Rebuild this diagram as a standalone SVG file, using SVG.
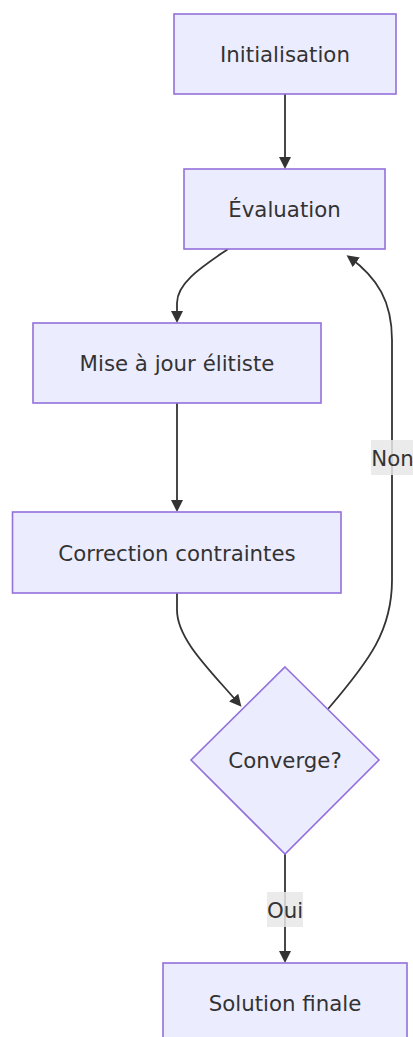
<svg xmlns="http://www.w3.org/2000/svg" width="413" height="1037" viewBox="0 0 413 1037">
  <style>
    .node rect, .node polygon { fill: #ECECFF; stroke: #9370DB; stroke-width: 1.6; }
    .node text, .label text { font-family: "DejaVu Sans", "Liberation Sans", sans-serif; font-size: 21.3px; fill: #333333; text-anchor: middle; }
    .edge { fill: none; stroke: #333333; stroke-width: 1.8; marker-end: url(#arrow); }
    .label rect { fill: #e8e8e8; fill-opacity: 0.85; }
  </style>
  <defs>
    <marker id="arrow" viewBox="0 0 12 12" refX="9" refY="6" markerWidth="12" markerHeight="12" markerUnits="userSpaceOnUse" orient="auto">
      <path d="M0,0 L12,6 L0,12 z" fill="#333333"/>
    </marker>
  </defs>

  <!-- connectors -->
  <g id="connectors">
    <path class="edge" d="M285,94 L285,166"/>
    <path class="edge" d="M228,249 C205,265 177,282 177,303 L177,320"/>
    <path class="edge" d="M177,403 L177,509"/>
    <path class="edge" d="M177,593 L177,610 C177,640 212,672 239.5,704.5"/>
    <path class="edge" d="M328,709 C370,660 392,630 392,580 L392,340 C392,302 378,278 349,257"/>
    <path class="edge" d="M285,854 L285,960"/>
    <g class="label" id="label-non">
      <rect x="371" y="440" width="43" height="35"/>
      <text x="392.5" y="465.5">Non</text>
    </g>
    <g class="label" id="label-oui">
      <rect x="267" y="892" width="36" height="35"/>
      <text x="285" y="917.5">Oui</text>
    </g>
  </g>

  <!-- nodes -->
  <g class="node" id="init">
    <rect x="174" y="14" width="222" height="80"/>
    <text x="285" y="62">Initialisation</text>
  </g>
  <g class="node" id="eval">
    <rect x="184" y="169" width="201" height="80"/>
    <text x="284.5" y="217">Évaluation</text>
  </g>
  <g class="node" id="maj">
    <rect x="33" y="323" width="288" height="80"/>
    <text x="177" y="371">Mise à jour élitiste</text>
  </g>
  <g class="node" id="correction">
    <rect x="12.5" y="512" width="328.5" height="81"/>
    <text x="177" y="560.5">Correction contraintes</text>
  </g>
  <g class="node" id="converge">
    <polygon points="285,667 379,760 285,854 191,760"/>
    <text x="285" y="767.5">Converge?</text>
  </g>
  <g class="node" id="solution">
    <rect x="163" y="963" width="244" height="80"/>
    <text x="285" y="1011">Solution finale</text>
  </g>
</svg>
